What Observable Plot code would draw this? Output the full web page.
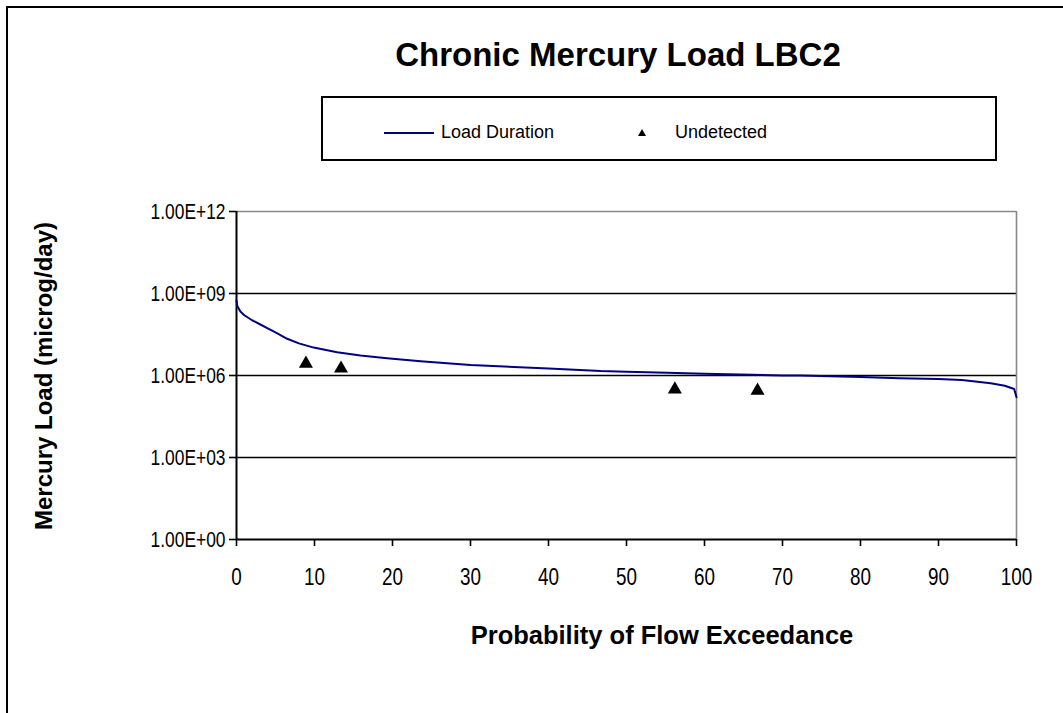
<!DOCTYPE html>
<html>
<head>
<meta charset="utf-8">
<script src="https://cdn.jsdelivr.net/npm/d3@7"></script>
<script src="https://cdn.jsdelivr.net/npm/@observablehq/plot@0.6"></script>
<style>
  html, body { margin: 0; padding: 0; background: #fff; overflow: hidden; }
  #wrap { position: relative; width: 1063px; height: 713px; font-family: "Liberation Sans", Arial, sans-serif; overflow: hidden; }
  #frame { position: absolute; left: 6px; top: 6px; width: 2000px; height: 2000px; border: 2px solid #000; box-sizing: border-box; }
  #title { position: absolute; left: 618px; top: 36px; transform: translateX(-50%); font-weight: bold; font-size: 33px; white-space: nowrap; color: #000; }
  #legend { position: absolute; left: 321px; top: 96px; width: 676px; height: 65px; border: 2px solid #000; box-sizing: border-box; background: #fff; }
  .ltext { position: absolute; font-size: 18px; white-space: nowrap; top: 24px; color: #000; }
  #ytitle { position: absolute; left: 44px; top: 376px; transform: translate(-50%, -50%) rotate(-90deg); font-weight: bold; font-size: 24px; white-space: nowrap; }
  #xtitle { position: absolute; left: 662px; top: 621px; transform: translateX(-50%); font-weight: bold; font-size: 25.5px; white-space: nowrap; }
  #plot { position: absolute; left: 0; top: 0; }
</style>
</head>
<body>
<div id="wrap">
  <div id="frame"></div>
  <div id="plot"></div>
  <div id="title">Chronic Mercury Load LBC2</div>
  <div id="legend">
    <svg style="position:absolute;left:0;top:0" width="672" height="61">
      <line x1="61" x2="111" y1="35" y2="35" stroke="#000080" stroke-width="2"></line>
      <path d="M319,31 L323,38 L315,38 Z" fill="#000"></path>
    </svg>
    <span class="ltext" style="left:118px">Load Duration</span>
    <span class="ltext" style="left:352px">Undetected</span>
  </div>
  <div id="ytitle">Mercury Load (microg/day)</div>
  <div id="xtitle">Probability of Flow Exceedance</div>
</div>
<script>
// Load duration curve (percent exceedance vs load, microg/day)
const exceedance = [0, 0.1, 0.5, 1.0, 2.0, 3.0, 4.0, 5.0, 6.5, 8.0, 9.9, 12.9, 15.9, 19.3, 23.6, 30, 40, 46.7, 50, 55.2, 60, 70, 72.3, 80, 85, 90, 93, 96.7, 98.5, 99.7, 100];
const load = [5.5e8, 3.5e8, 2.2e8, 1.6e8, 1.05e8, 7.5e7, 5.3e7, 3.8e7, 2.2e7, 1.5e7, 1.05e7, 7.1e6, 5.4e6, 4.3e6, 3.3e6, 2.4e6, 1.8e6, 1.45e6, 1.38e6, 1.26e6, 1.15e6, 1.0e6, 1.0e6, 8.9e5, 7.9e5, 7.4e5, 6.9e5, 5.2e5, 4.2e5, 3.2e5, 1.6e5];

// Undetected samples
const undetX = [8.9, 13.4, 56.2, 66.8];
const undetY = [2.7e6, 1.8e6, 3.1e5, 2.8e5];

const xTicks = [0, 10, 20, 30, 40, 50, 60, 70, 80, 90, 100];
const yTicks = [1, 1e3, 1e6, 1e9, 1e12];

const curve = exceedance.map((x, i) => ({x, y: load[i]}));
const pts = undetX.map((x, i) => ({x, y: undetY[i]}));

const fmt = d => {
  const [m, e] = d.toExponential(2).toUpperCase().split("E");
  const sign = e[0];
  const digits = e.slice(1).padStart(2, "0");
  return m + "E" + sign + digits;
};

const chart = Plot.plot({
  width: 1063,
  height: 713,
  marginTop: 211,
  marginLeft: 236,
  marginRight: 47,
  marginBottom: 174,
  style: {fontFamily: "'Liberation Sans', Arial, sans-serif", color: "#000", background: "transparent"},
  x: {domain: [0, 100]},
  y: {type: "log", domain: [1, 1e12]},
  marks: [
    Plot.ruleY([1e3, 1e6, 1e9], {stroke: "#000", strokeWidth: 1.6}),
    Plot.ruleY([1e12], {stroke: "#888", strokeWidth: 1.6}),
    Plot.ruleX([100], {stroke: "#888", strokeWidth: 1.6}),
    Plot.ruleX([0], {stroke: "#000", strokeWidth: 2}),
    Plot.ruleY([1], {stroke: "#000", strokeWidth: 2}),
    Plot.axisX({ticks: xTicks, tickSize: 7, tickPadding: 22, tickFormat: d => String(d), label: null, stroke: "#000", strokeWidth: 1.6}),
    Plot.axisY({ticks: yTicks, tickSize: 7, tickPadding: 4, tickFormat: fmt, label: null, stroke: "#000", strokeWidth: 1.6}),
    Plot.line(curve, {x: "x", y: "y", stroke: "#000080", strokeWidth: 2}),
    Plot.dot(pts, {x: "x", y: "y", symbol: "triangle", r: 5.2, fill: "#000", stroke: "none"})
  ]
});
document.getElementById("plot").appendChild(chart);

// enlarge and condense tick labels horizontally (reference uses a narrow, tall face)
function condense(selector, size, k) {
  chart.querySelectorAll(selector).forEach(t => {
    t.setAttribute("font-size", size);
    t.style.setProperty("font-size", size + "px", "important");
    const w = t.getComputedTextLength();
    t.setAttribute("textLength", (w * k).toFixed(1));
    t.setAttribute("lengthAdjust", "spacingAndGlyphs");
  });
}
condense('g[aria-label="x-axis tick label"] text', 23, 0.82);
condense('g[aria-label="y-axis tick label"] text', 22, 0.79);
</script>
</body>
</html>
